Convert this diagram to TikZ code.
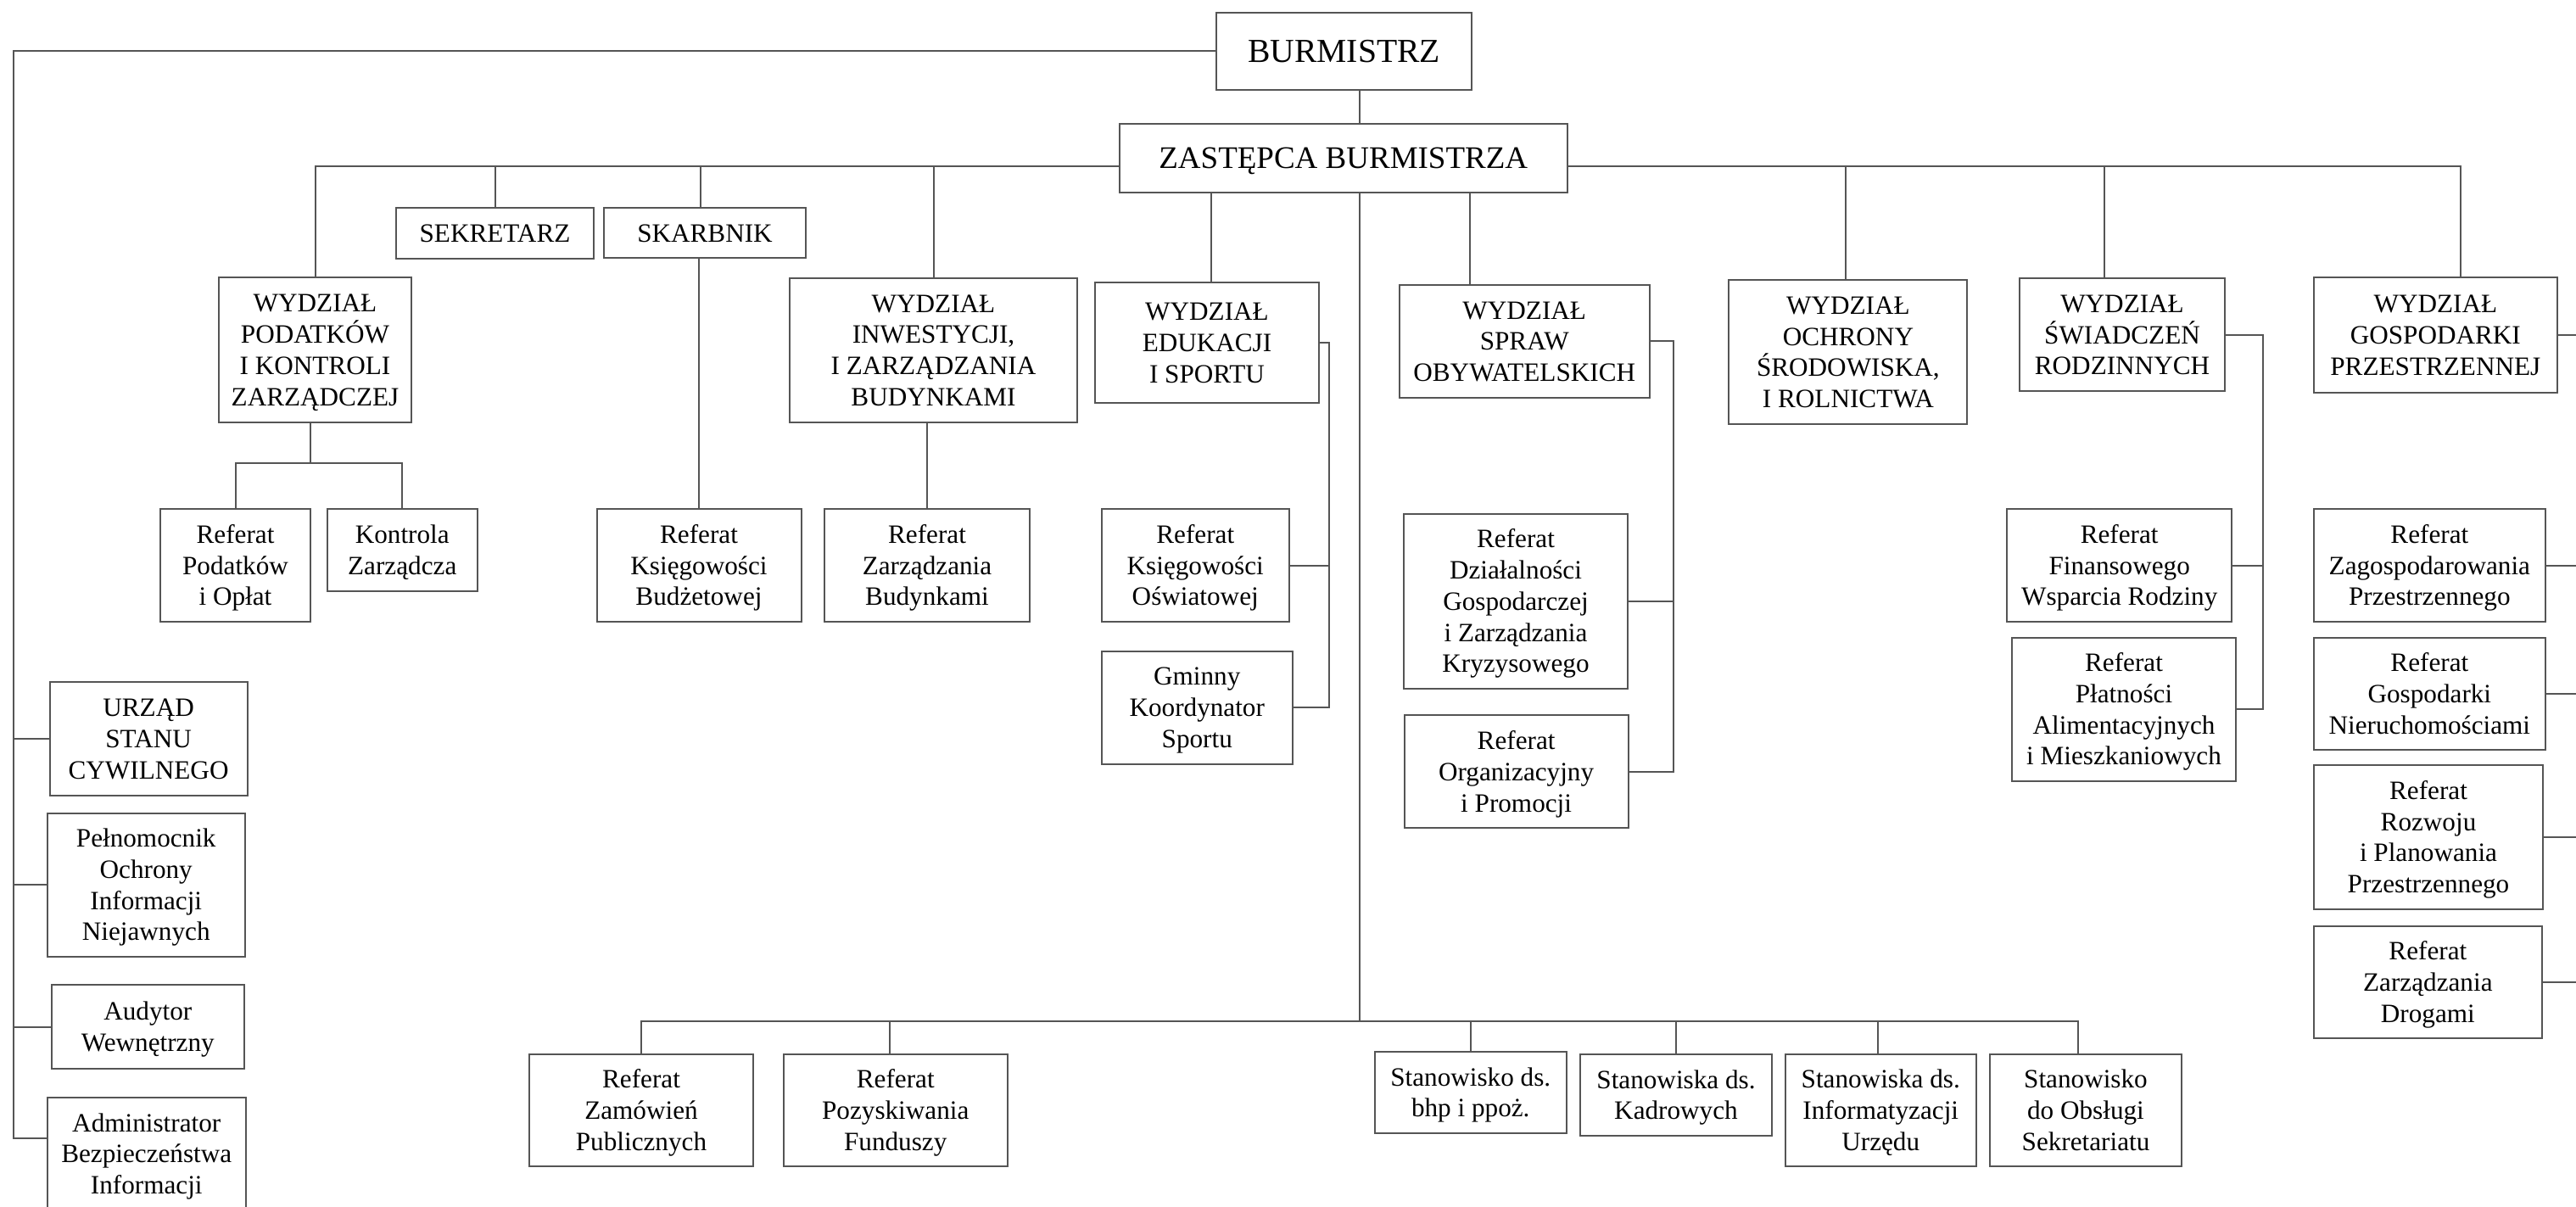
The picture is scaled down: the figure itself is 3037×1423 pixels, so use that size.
\documentclass[tikz,border=0pt]{standalone}
\usepackage{fontspec}
\setmainfont{Liberation Serif}
\definecolor{linegray}{HTML}{555555}
% struts like the line box of the font
\newcommand{\boxtext}[1]{\rule{0pt}{0.891em}#1\rule[-0.216em]{0pt}{0.216em}}

\begin{document}
\begin{tikzpicture}[x=0.5pt, y=-0.5pt,
	box/.style={draw=linegray, line width=1pt, fill=white, inner sep=0pt, align=center, font=\fontsize{15.6}{18.4}\selectfont},
	boxsize/.style 2 args={minimum width=#1*0.5pt, minimum height=#2*0.5pt},
	link/.style={draw=linegray, line width=1pt}]
	\useasboundingbox (0,0) rectangle (3037,1423);

	% Top
		\node[box, boxsize={301}{91}, font=\fontsize{19.8}{23}\selectfont] (burm) at (1584.5,60.5) {\boxtext{BURMISTRZ}};
		\node[box, boxsize={528}{81}, font=\fontsize{18.5}{21}\selectfont] (zast) at (1583.75,186.5) {\boxtext{ZASTĘPCA BURMISTRZA}};
		\node[box, boxsize={233}{60}] (sekr) at (583.5,275) {\boxtext{SEKRETARZ}};
		\node[box, boxsize={238}{59}] (skarb) at (831,274.5) {\boxtext{SKARBNIK}};

	% Wydzialy
		\node[box, boxsize={227}{170}] (podatk) at (371.5,412.5) {\boxtext{WYDZIAŁ\\PODATKÓW\\I KONTROLI\\ZARZĄDCZEJ}};
		\node[box, boxsize={339}{169.5}] (inwest) at (1100.5,412.75) {\boxtext{WYDZIAŁ\\INWESTYCJI,\\I ZARZĄDZANIA\\BUDYNKAMI}};
		\node[box, boxsize={264}{142}] (eduk) at (1423,404) {\boxtext{WYDZIAŁ\\EDUKACJI\\I SPORTU}};
		\node[box, boxsize={294.5}{132.6}] (spraw) at (1797.25,402.3) {\boxtext{WYDZIAŁ\\SPRAW\\OBYWATELSKICH}};
		\node[box, boxsize={281}{170}] (ochr) at (2178.9,415) {\boxtext{WYDZIAŁ\\OCHRONY\\ŚRODOWISKA,\\I ROLNICTWA}};
		\node[box, boxsize={242}{133}] (swiad) at (2502,394.5) {\boxtext{WYDZIAŁ\\ŚWIADCZEŃ\\RODZINNYCH}};
		\node[box, boxsize={286.6}{135.5}] (gosp) at (2871.3,395.25) {\boxtext{WYDZIAŁ\\GOSPODARKI\\PRZESTRZENNEJ}};

	% Referaty
		\node[box, boxsize={177}{133}] (refpod) at (277.5,666.5) {\boxtext{Referat\\Podatków\\i Opłat}};
		\node[box, boxsize={176.5}{96.5}] (kontr) at (474.25,648.25) {\boxtext{Kontrola\\Zarządcza}};
		\node[box, boxsize={241}{133}] (refksieg) at (824,666.5) {\boxtext{Referat\\Księgowości\\Budżetowej}};
		\node[box, boxsize={242}{133}] (refbud) at (1093,666.5) {\boxtext{Referat\\Zarządzania\\Budynkami}};
		\node[box, boxsize={221.5}{133}] (refosw) at (1409.25,666.5) {\boxtext{Referat\\Księgowości\\Oświatowej}};
		\node[box, boxsize={225.5}{133.5}] (gminny) at (1411.25,834.25) {\boxtext{Gminny\\Koordynator\\Sportu}};
		\node[box, boxsize={264}{206.3}] (refdz) at (1787,708.85) {\boxtext{Referat\\Działalności\\Gospodarczej\\i Zarządzania\\Kryzysowego}};
		\node[box, boxsize={264}{132.6}] (orgn) at (1787.6,909.7) {\boxtext{Referat\\Organizacyjny\\i Promocji}};
		\node[box, boxsize={264.6}{133}] (reffin) at (2498.7,666.5) {\boxtext{Referat\\Finansowego\\Wsparcia Rodziny}};
		\node[box, boxsize={264}{169.5}] (platn) at (2504,836.25) {\boxtext{Referat\\Płatności\\Alimentacyjnych\\i Mieszkaniowych}};
		\node[box, boxsize={272.7}{133}] (zagosp) at (2864.35,666.5) {\boxtext{Referat\\Zagospodarowania\\Przestrzennego}};
		\node[box, boxsize={272.7}{132.5}] (nieruch) at (2864.35,817.75) {\boxtext{Referat\\Gospodarki\\Nieruchomościami}};
		\node[box, boxsize={270}{170}] (rozw) at (2863,987) {\boxtext{Referat\\Rozwoju\\i Planowania\\Przestrzennego}};
		\node[box, boxsize={268.7}{132.4}] (drog) at (2862.35,1157.8) {\boxtext{Referat\\Zarządzania\\Drogami}};

	% Left column
		\node[box, boxsize={232.8}{133.5}] (urzad) at (175.1,870.75) {\boxtext{URZĄD\\STANU\\CYWILNEGO}};
		\node[box, boxsize={233.5}{169.5}] (pelno) at (172.25,1043.25) {\boxtext{Pełnomocnik\\Ochrony\\Informacji\\Niejawnych}};
		\node[box, boxsize={226.6}{99}] (audyt) at (174.3,1210.5) {\boxtext{Audytor\\Wewnętrzny}};
		\node[box, boxsize={233.5}{133.4}] (admin) at (172.75,1360.3) {\boxtext{Administrator\\Bezpieczeństwa\\Informacji}};

	% Bottom row
		\node[box, boxsize={264}{132}] (zamow) at (756,1309) {\boxtext{Referat\\Zamówień\\Publicznych}};
		\node[box, boxsize={263.5}{132}] (pozysk) at (1055.75,1309) {\boxtext{Referat\\Pozyskiwania\\Funduszy}};
		\node[box, boxsize={226.5}{96}] (bhp) at (1733.75,1288) {\boxtext{Stanowisko ds.\\bhp i ppoż.}};
		\node[box, boxsize={226}{96}] (kadr) at (1976,1291) {\boxtext{Stanowiska ds.\\Kadrowych}};
		\node[box, boxsize={225.5}{132}] (inform) at (2217.25,1309) {\boxtext{Stanowiska ds.\\Informatyzacji\\Urzędu}};
		\node[box, boxsize={226}{132}] (sekret) at (2459,1309) {\boxtext{Stanowisko\\do Obsługi\\Sekretariatu}};

	% Buses
		\coordinate (lbus) at (16,1341.5);
		\coordinate (tbus) at (0,196);
		\coordinate (pbar) at (0,546);
		\coordinate (spine) at (1603,1204);
		\coordinate (ebus) at (1567,0);
		\coordinate (sbus) at (1972.6,0);
		\coordinate (rbus) at (2668,0);
		\coordinate (gbus) at (3060,0);

	% Left bus
		\draw[link] (burm.west) -| (lbus) -- (lbus -| admin.west);
		\draw[link] (urzad.west) -- (urzad.west -| lbus);
		\draw[link] (pelno.west) -- (pelno.west -| lbus);
		\draw[link] (audyt.west) -- (audyt.west -| lbus);

	% Spine
		\draw[link] (burm.south -| spine) -- (zast.north -| spine);
		\draw[link] (zast.south -| spine) -- (spine);

	% Top bus
		\draw[link] (zast.west |- tbus) -| (podatk.north);
		\draw[link] (zast.east |- tbus) -| ([xshift=15pt]gosp.north);
		\draw[link] (sekr.north) -- (sekr.north |- tbus);
		\draw[link] ([xshift=-2.5pt]skarb.north) -- ([xshift=-2.5pt]skarb.north |- tbus);
		\draw[link] (inwest.north) -- (inwest.north |- tbus);
		\draw[link] ([xshift=-1.5pt]ochr.north) -- ([xshift=-1.5pt]ochr.north |- tbus);
		\draw[link] ([xshift=-10.6pt]swiad.north) -- ([xshift=-10.6pt]swiad.north |- tbus);
		\draw[link] ([xshift=2.5pt]eduk.north) -- ([xshift=2.5pt]eduk.north |- zast.south);
		\draw[link] ([xshift=-32pt]spraw.north) -- ([xshift=-32pt]spraw.north |- zast.south);

	% Referaty links
		\draw[link] ([xshift=-3pt]podatk.south) -- ([xshift=-3pt]podatk.south |- pbar);
		\draw[link] (refpod.north) |- (kontr.north |- pbar) -- (kontr.north);
		\draw[link] (refksieg.north) -- (refksieg.north |- skarb.south);
		\draw[link] (refbud.north) -- (refbud.north |- inwest.south);

		\draw[link] (eduk.east) -| (ebus |- gminny.east) -- (gminny.east);
		\draw[link] (refosw.east) -- (refosw.east -| ebus);
		\draw[link] (spraw.east) -| (sbus |- orgn.east) -- (orgn.east);
		\draw[link] (refdz.east) -- (refdz.east -| sbus);
		\draw[link] (swiad.east) -| (rbus |- platn.east) -- (platn.east);
		\draw[link] (reffin.east) -- (reffin.east -| rbus);
		\draw[link] (gosp.east) -| (gbus |- drog.east) -- (drog.east);
		\draw[link] (zagosp.east) -- (zagosp.east -| gbus);
		\draw[link] (nieruch.east) -- (nieruch.east -| gbus);
		\draw[link] (rozw.east) -- (rozw.east -| gbus);

	% Bottom bus
		\draw[link] (zamow.north) |- (spine) -| ([xshift=-4.5pt]sekret.north);
		\draw[link] ([xshift=-3.6pt]pozysk.north) -- ([xshift=-3.6pt]pozysk.north |- spine);
		\draw[link] (bhp.north) -- (bhp.north |- spine);
		\draw[link] (kadr.north) -- (kadr.north |- spine);
		\draw[link] ([xshift=-1.8pt]inform.north) -- ([xshift=-1.8pt]inform.north |- spine);
\end{tikzpicture}
\end{document}
